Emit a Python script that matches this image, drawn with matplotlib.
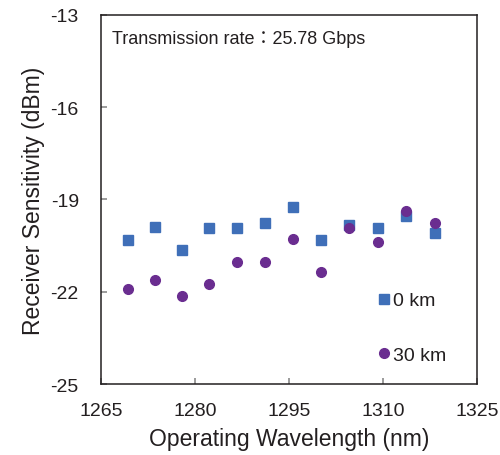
import matplotlib
matplotlib.use('Agg')
import matplotlib.pyplot as plt

# LAN-WDM channel wavelengths (nm)
wavelength = [1269.23, 1273.54, 1277.89, 1282.26, 1286.66, 1291.10,
              1295.56, 1300.05, 1304.58, 1309.14, 1313.73, 1318.35]
sens_0km = [-20.33, -19.88, -20.65, -19.92, -19.94, -19.75,
            -19.26, -20.33, -19.82, -19.94, -19.55, -20.10]
sens_30km = [-21.90, -21.61, -22.13, -21.74, -21.04, -21.02,
             -20.27, -21.36, -19.94, -20.39, -19.39, -19.75]

x_ticks = [1265, 1280, 1295, 1310, 1325]
y_ticks = [-25, -22, -19, -16, -13]

plt.rcParams['font.family'] = ['Liberation Sans', 'Noto Sans CJK TC']
plt.rcParams['axes.unicode_minus'] = False
dark = '#231f20'

fig = plt.figure(figsize=(5, 4.56), dpi=100)
ax = fig.add_axes([0.202, 0.1557, 0.752, 0.8093])

ax.plot(wavelength, sens_0km, linestyle='none', marker='s', markersize=7.2,
        color='#3f6fb8', label='0 km')
ax.plot(wavelength, sens_30km, linestyle='none', marker='o', markersize=7.0,
        color='#6a2d90', label='30 km')

ax.set_xlim(1265, 1325)
ax.set_ylim(-25, -13)
ax.set_xticks(x_ticks)
ax.set_yticks(y_ticks)

for s in ax.spines.values():
    s.set_color(dark)
    s.set_linewidth(1.1)
ax.tick_params(axis='both', direction='in', length=4, width=1.2, color='#8a8a8a',
               labelsize=14, labelcolor=dark)
ax.tick_params(axis='x', pad=13)
ax.tick_params(axis='y', pad=16)

ax.set_xlabel('Operating Wavelength (nm)', fontsize=16.5, color=dark, labelpad=6)
ax.set_ylabel('Receiver Sensitivity (dBm)', fontsize=16.5, color=dark, labelpad=4)

ax.text(0.03, 0.935, 'Transmission rate：25.78 Gbps', transform=ax.transAxes,
        fontsize=13, color=dark, va='center', ha='left')

ax.legend(loc='center left', bbox_to_anchor=(0.69, 0.152), frameon=False,
          fontsize=14, labelspacing=1.9, handlelength=0.6, handletextpad=0.2,
          labelcolor=dark)

fig.savefig('out.png', dpi=100)
